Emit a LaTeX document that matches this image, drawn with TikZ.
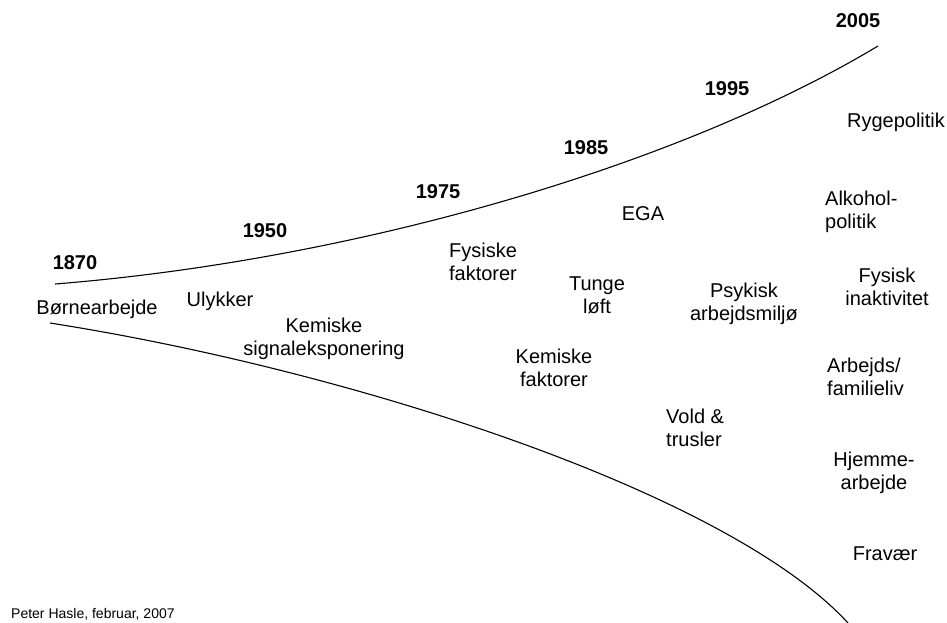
\documentclass[tikz,border=0pt]{standalone}
\usepackage{fontspec}
\setmainfont{Liberation Sans}
\begin{document}
\begin{tikzpicture}[x=1pt,y=-1pt,
  lbl/.style={inner sep=0pt, anchor=base, align=center, font=\fontsize{20}{23}\selectfont},
  lbll/.style={inner sep=0pt, anchor=base west, align=left, font=\fontsize{20}{23}\selectfont},
  yr/.style={inner sep=0pt, anchor=base, font=\fontsize{20}{23}\selectfont\bfseries},
  curve/.style={line width=1.1pt, black}]
\useasboundingbox (0,0) rectangle (947,622);
% curves
\coordinate (ua) at (55,284);
\coordinate (ub) at (878,46);
\coordinate (la) at (50,323);
\coordinate (lb) at (848,623);
\draw[curve] (ua) .. controls (355,260) and (678,166) .. (ub);
\draw[curve] (la) .. controls (350,370) and (728,492) .. (lb);
% years
\node[yr] (y1870) at (75,269) {1870};
\node[yr] (y1950) at (265,237) {1950};
\node[yr] (y1975) at (438,198) {1975};
\node[yr] (y1985) at (586,154) {1985};
\node[yr] (y1995) at (727,95) {1995};
\node[yr] (y2005) at (858,27) {2005};
% labels (base = last line)
\node[lbl] (born) at (97,314) {Børnearbejde};
\node[lbl] (ulyk) at (220,306) {Ulykker};
\node[lbl] (kem1) at (324,355) {Kemiske\\signaleksponering};
\node[lbl] (fys) at (483,280) {Fysiske\\faktorer};
\node[lbl] (ega) at (643,220) {EGA};
\node[lbl] (tunge) at (597,313) {Tunge\\løft};
\node[lbl] (kem2) at (554,386) {Kemiske\\faktorer};
\node[lbl] (psyk) at (744,320) {Psykisk\\arbejdsmiljø};
\node[lbll] (vold) at (666,446) {Vold \&\\trusler};
\node[lbl] (ryge) at (896,127) {Rygepolitik};
\node[lbll] (alko) at (825,228) {Alkohol-\\politik};
\node[lbl] (fysin) at (887,305) {Fysisk\\inaktivitet};
\node[lbll] (arbfam) at (827,395) {Arbejds/\\familieliv};
\node[lbl] (hjem) at (874,489) {Hjemme-\\arbejde};
\node[lbl] (frav) at (885,560) {Fravær};
\node[inner sep=0pt, anchor=base west, font=\fontsize{14}{16}\selectfont] (peter) at (11,618) {Peter Hasle, februar, 2007};
\end{tikzpicture}
\end{document}
